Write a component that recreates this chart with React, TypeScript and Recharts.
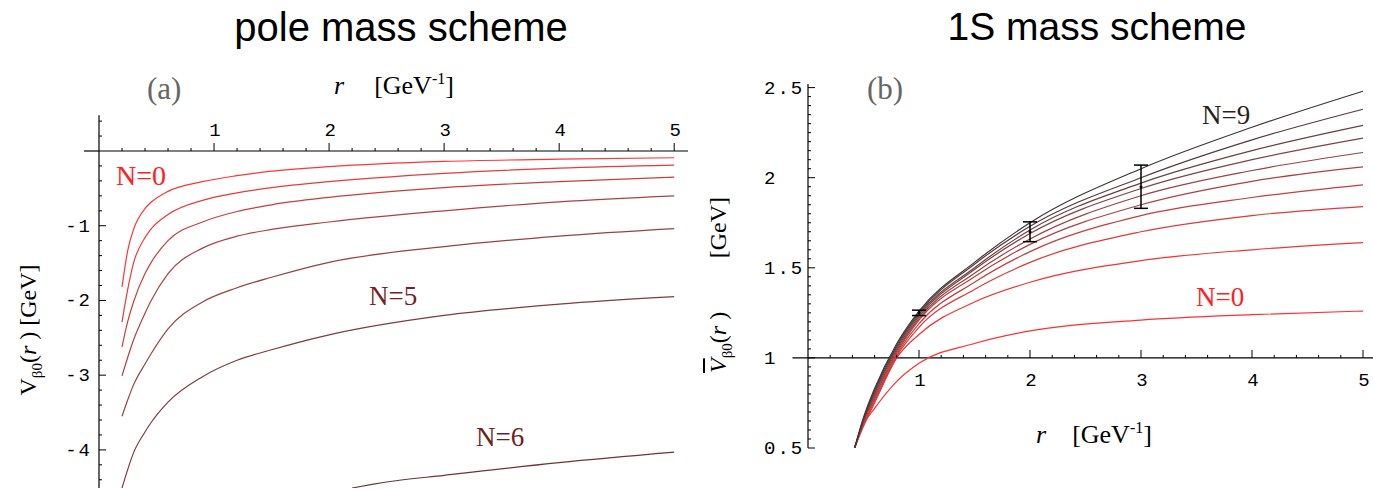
import React from "react";
import {
  ComposedChart,
  ErrorBar,
  Line,
  LineChart,
  ReferenceDot,
  ReferenceLine,
  Scatter,
  XAxis,
  YAxis,
} from "recharts";

// (a) pole mass scheme, r in GeV^-1
const poleR = [0.2, 0.25, 0.3, 0.4, 0.45, 0.6, 0.9, 1.2, 1.5, 2, 3, 4, 5];
const poleN0 = [-1.82, -1.33, -1.05, -0.77, -0.69, -0.54, -0.41, -0.33, -0.27, -0.21, -0.14, -0.11, -0.09];
const poleN1 = [-2.29, -1.85, -1.5, -1.16, -1.05, -0.85, -0.66, -0.56, -0.49, -0.41, -0.3, -0.23, -0.19];
const poleN2 = [-2.62, -2.28, -2.02, -1.64, -1.5, -1.2, -0.95, -0.81, -0.72, -0.62, -0.49, -0.41, -0.35];
const poleN3 = [-3.01, -2.76, -2.53, -2.17, -2.01, -1.64, -1.3, -1.14, -1.05, -0.95, -0.8, -0.68, -0.6];
const poleN4 = [-3.55, -3.33, -3.13, -2.85, -2.72, -2.38, -2.02, -1.83, -1.69, -1.49, -1.28, -1.14, -1.04];
const poleN5 = [-4.51, -4.26, -4.04, -3.76, -3.64, -3.36, -3.02, -2.8, -2.66, -2.46, -2.2, -2.05, -1.95];
const poleN6R = [2.2, 2.5, 3, 4, 5];
const poleN6 = [-4.51, -4.43, -4.34, -4.17, -4.03];
const poleColors = ["#ff3535", "#e83a3a", "#cc3c3c", "#b04040", "#964242", "#7e3c3c", "#6e3434"];

// (b) 1S mass scheme
const oneSR = [0.42, 0.5, 0.6, 0.8, 1, 1.5, 2, 3, 4, 5];
const oneSN0 = [0.5, 0.63, 0.72, 0.87, 0.97, 1.08, 1.15, 1.21, 1.24, 1.26];
const oneSN1 = [0.5, 0.62, 0.75, 1.0, 1.13, 1.31, 1.42, 1.54, 1.6, 1.64];
const oneSN2 = [0.5, 0.63, 0.76, 1.01, 1.17, 1.38, 1.53, 1.7, 1.79, 1.84];
const oneSN3 = [0.5, 0.64, 0.77, 1.02, 1.19, 1.42, 1.59, 1.79, 1.89, 1.96];
const oneSN4 = [0.5, 0.64, 0.78, 1.03, 1.21, 1.45, 1.63, 1.85, 1.98, 2.06];
const oneSN5 = [0.5, 0.65, 0.79, 1.04, 1.22, 1.47, 1.66, 1.9, 2.04, 2.14];
const oneSN6 = [0.5, 0.65, 0.8, 1.05, 1.23, 1.49, 1.69, 1.94, 2.1, 2.22];
const oneSN7 = [0.5, 0.66, 0.81, 1.06, 1.24, 1.5, 1.71, 1.97, 2.15, 2.29];
const oneSN8 = [0.5, 0.66, 0.82, 1.07, 1.25, 1.52, 1.73, 2.0, 2.21, 2.38];
const oneSN9 = [0.5, 0.67, 0.83, 1.08, 1.26, 1.53, 1.75, 2.05, 2.28, 2.48];
const oneSColors = ["#ff3030", "#f03434", "#de3838", "#c83c3c", "#b04040", "#984242", "#804242", "#6a4040", "#553c3c", "#3c3636"];

// lattice points with errors
const latticeR = [1, 2, 3];
const latticeV = [1.25, 1.7, 1.95];
const latticeErr = [0.015, 0.055, 0.12];

const poleXTicks = Array.from({ length: 25 }, (_, i) => (i + 1) / 5);
const poleYTicks = Array.from({ length: 22 }, (_, i) => -(i + 1) / 5);
const poleYUpTicks = [0.2, 0.4];
const oneSXTicks = Array.from({ length: 25 }, (_, i) => (i + 1) / 5);
const oneSYTicks = Array.from({ length: 41 }, (_, i) => 0.5 + i / 20);

const toPoints = (rs: number[], vs: number[]) => rs.map((r, i) => ({ r, v: vs[i] }));
const poleSeries = [poleN0, poleN1, poleN2, poleN3, poleN4, poleN5].map((vs) => toPoints(poleR, vs));
poleSeries.push(toPoints(poleN6R, poleN6));
const oneSSeries = [oneSN0, oneSN1, oneSN2, oneSN3, oneSN4, oneSN5, oneSN6, oneSN7, oneSN8, oneSN9].map((vs) =>
  toPoints(oneSR, vs)
);
const latticeData = latticeR.map((r, i) => ({ r, v: latticeV[i], err: latticeErr[i] }));

const mono = '"Liberation Mono", monospace';
const serif = '"Liberation Serif", serif';
const isMajor = (v: number, step: number) => Math.abs(v / step - Math.round(v / step)) < 1e-6;

function PoleXTick({ x, y, payload }: any) {
  const v = payload.value;
  const major = isMajor(v, 1);
  return (
    <g>
      <line x1={x} x2={x} y1={y} y2={y - (major ? 8 : 3)} stroke="#000" strokeWidth={1} />
      {major && (
        <text x={x + 1} y={y - 15} textAnchor="middle" fontFamily={mono} fontSize={19}>
          {v}
        </text>
      )}
    </g>
  );
}

function PoleYTick({ x, y, payload }: any) {
  const v = payload.value;
  const major = isMajor(v, 1);
  return (
    <g>
      <line x1={x} x2={x + (major ? 7 : 3)} y1={y} y2={y} stroke="#000" strokeWidth={1} />
      {major && (
        <text x={x - 7} y={y + 6} textAnchor="end" fontFamily={mono} fontSize={19} letterSpacing={2}>
          {v}
        </text>
      )}
    </g>
  );
}

function OneSYTick({ x, y, payload }: any) {
  const v = payload.value;
  const major = isMajor(v, 0.5);
  return (
    <g>
      <line x1={x} x2={x + (major ? 7 : 3)} y1={y} y2={y} stroke="#000" strokeWidth={1} />
      {major && (
        <text x={x - 44} y={y + 6} textAnchor="start" fontFamily={mono} fontSize={19} letterSpacing={2}>
          {v === 1 || v === 2 ? String(v) : v.toFixed(1)}
        </text>
      )}
    </g>
  );
}

function OneSXTick({ cx, cy, value }: any) {
  const major = isMajor(value, 1);
  return (
    <g>
      <line x1={cx} x2={cx} y1={cy} y2={cy - (major ? 8 : 3)} stroke="#000" strokeWidth={1} />
      {major && (
        <text x={cx + 1} y={cy + 28} textAnchor="middle" fontFamily={mono} fontSize={19}>
          {value}
        </text>
      )}
    </g>
  );
}

const abs = (left: number, top: number, extra: React.CSSProperties = {}): React.CSSProperties => ({
  position: "absolute",
  left,
  top,
  lineHeight: 1,
  whiteSpace: "nowrap",
  ...extra,
});

export default function App() {
  return (
    <div style={{ position: "absolute", left: 0, top: 0, width: 1373, height: 490, background: "#fff", overflow: "hidden" }}>
      <div style={abs(0, 7, { width: 802, textAlign: "center", fontFamily: '"Liberation Sans", Arial, sans-serif', fontSize: 40 })}>
        pole mass scheme
      </div>
      <div style={abs(797, 7, { width: 600, textAlign: "center", fontFamily: '"Liberation Sans", Arial, sans-serif', fontSize: 39 })}>
        1S mass scheme
      </div>

      {/* (a) pole mass */}
      <div style={{ position: "absolute", left: 0, top: 0 }}>
        <LineChart width={700} height={490} margin={{ top: 121, right: 12, bottom: 2, left: 59 }}>
          <XAxis
            dataKey="r"
            type="number"
            orientation="top"
            height={30}
            domain={[0, 5.12]}
            ticks={poleXTicks}
            interval={0}
            tickSize={0}
            tickMargin={0}
            tick={<PoleXTick />}
            axisLine={{ stroke: "#000", strokeWidth: 1.2 }}
            allowDataOverflow
          />
          <YAxis
            dataKey="v"
            type="number"
            width={40}
            domain={[-4.51, 0]}
            ticks={poleYTicks}
            interval={0}
            tickSize={0}
            tickMargin={0}
            tick={<PoleYTick />}
            axisLine={{ stroke: "#000", strokeWidth: 1.2 }}
            allowDataOverflow
          />
          <ReferenceLine segment={[{ x: -0.13, y: 0 }, { x: 0, y: 0 }]} stroke="#000" strokeWidth={1.2} ifOverflow="visible" />
          <ReferenceLine segment={[{ x: 0, y: 0 }, { x: 0, y: 0.48 }]} stroke="#000" strokeWidth={1.2} ifOverflow="visible" />
          {poleYUpTicks.map((t) => (
            <ReferenceLine key={t} segment={[{ x: 0, y: t }, { x: 0.026, y: t }]} stroke="#000" ifOverflow="visible" />
          ))}
          {poleSeries.map((d, i) => (
            <Line
              key={i}
              data={d}
              dataKey="v"
              type="monotone"
              stroke={poleColors[i]}
              strokeWidth={1.2}
              dot={false}
              isAnimationActive={false}
            />
          ))}
        </LineChart>
      </div>

      <div style={abs(147, 73, { fontFamily: serif, fontSize: 31, color: "#666" })}>(a)</div>
      <div style={abs(334, 71, { fontFamily: serif, fontSize: 26 })}>
        <i>r</i>
        <span style={{ marginLeft: 30 }}>
          [GeV<sup style={{ fontSize: 16, verticalAlign: 10 }}>-1</sup>]
        </span>
      </div>
      <div style={abs(116, 162, { fontFamily: serif, fontSize: 28, color: "#ff2020" })}>N=0</div>
      <div style={abs(369, 283, { fontFamily: serif, fontSize: 27, color: "#7a1e1e" })}>N=5</div>
      <div style={abs(476, 424, { fontFamily: serif, fontSize: 27, color: "#6e1e1e" })}>N=6</div>
      <div
        style={abs(28 - 100, 330 - 15, {
          width: 200,
          height: 30,
          lineHeight: "30px",
          textAlign: "center",
          transform: "rotate(-90deg)",
          fontFamily: serif,
          fontSize: 24,
        })}
      >
        V<sub style={{ fontSize: 15 }}>β0</sub>(<i>r</i> ) [GeV]
      </div>

      {/* (b) 1S mass */}
      <div style={{ position: "absolute", left: 700, top: 0 }}>
        <ComposedChart width={673} height={490} margin={{ top: 84, right: 0, bottom: 42, left: 68 }}>
          <XAxis dataKey="r" type="number" domain={[0, 5.09]} hide allowDataOverflow />
          <YAxis
            dataKey="v"
            type="number"
            width={40}
            domain={[0.5, 2.52]}
            ticks={oneSYTicks}
            interval={0}
            tickSize={0}
            tickMargin={0}
            tick={<OneSYTick />}
            axisLine={{ stroke: "#000", strokeWidth: 1.2 }}
            allowDataOverflow
          />
          <ReferenceLine segment={[{ x: -0.14, y: 1 }, { x: 5.09, y: 1 }]} stroke="#000" strokeWidth={1.2} ifOverflow="visible" />
          {oneSXTicks.map((t) => (
            <ReferenceDot key={t} x={t} y={1} r={0} shape={(p: any) => <OneSXTick cx={p.cx} cy={p.cy} value={t} />} />
          ))}
          {oneSSeries.map((d, i) => (
            <Line
              key={i}
              data={d}
              dataKey="v"
              type="monotone"
              stroke={oneSColors[i]}
              strokeWidth={1.2}
              dot={false}
              isAnimationActive={false}
            />
          ))}
          <Scatter
            data={latticeData}
            dataKey="v"
            fill="#000"
            shape={(p: any) => <circle cx={p.cx} cy={p.cy} r={1.5} fill="#000" />}
            isAnimationActive={false}
          >
            <ErrorBar dataKey="err" direction="y" width={7} stroke="#000" strokeWidth={1.5} isAnimationActive={false} />
          </Scatter>
        </ComposedChart>
      </div>

      <div style={abs(867, 73, { fontFamily: serif, fontSize: 31, color: "#666" })}>(b)</div>
      <div style={abs(1202, 102, { fontFamily: serif, fontSize: 27, color: "#2a1e1e" })}>N=9</div>
      <div style={abs(1196, 284, { fontFamily: serif, fontSize: 27, color: "#ff2020" })}>N=0</div>
      <div style={abs(1036, 420, { fontFamily: serif, fontSize: 26 })}>
        <i>r</i>
        <span style={{ marginLeft: 26 }}>
          [GeV<sup style={{ fontSize: 16, verticalAlign: 10 }}>-1</sup>]
        </span>
      </div>
      <div
        style={abs(718 - 88, 285 - 15, {
          width: 176,
          height: 30,
          lineHeight: "30px",
          display: "flex",
          justifyContent: "space-between",
          transform: "rotate(-90deg)",
          fontFamily: serif,
          fontSize: 24,
        })}
      >
        <span>
          <i style={{ textDecoration: "overline" }}>V</i>
          <sub style={{ fontSize: 15 }}>β0</sub>(<i>r</i> )
        </span>
        <span>[GeV]</span>
      </div>
    </div>
  );
}
